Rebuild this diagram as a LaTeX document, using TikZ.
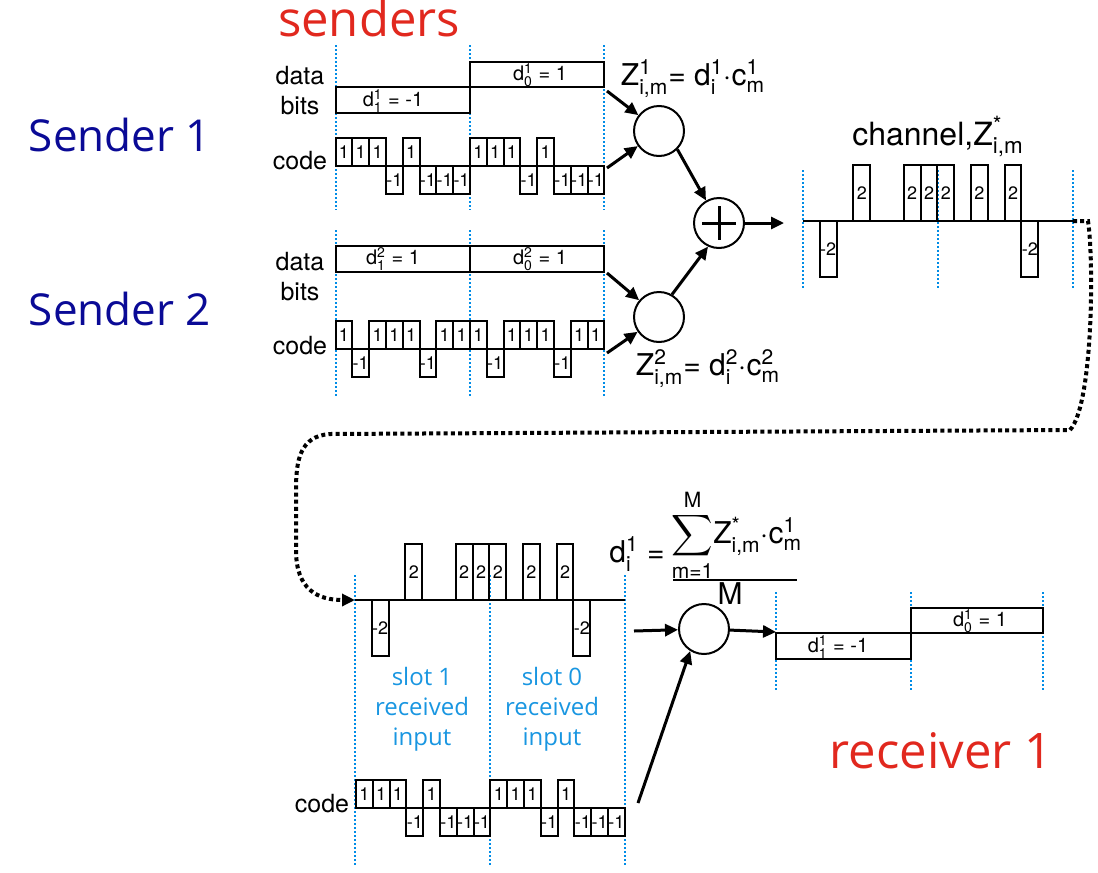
\documentclass[tikz,border=0pt]{standalone}
\usepackage{amsmath}
\usepackage{fontspec}
\setmainfont{TeX Gyre Heros}
\newfontfamily\segoe{Open Sans}
\usetikzlibrary{arrows.meta}

\definecolor{navyblue}{RGB}{10,10,150}
\definecolor{titlered}{RGB}{225,40,30}
\definecolor{slotblue}{RGB}{25,150,225}
\definecolor{gridblue}{RGB}{0,140,230}

\newcommand{\chipw}{16.8}
\newcommand{\chiph}{28}
\newcommand{\zsub}[3]{#1$^{\text{#2}}_{\text{#3}}$}
% chip waveform: #1 name, #2 x start, #3 baseline y, #4 chip values
\newcommand{\chipwave}[4]{%
  \foreach \v [count=\k from 0] in {#4}{%
    \ifnum\v=0\relax\else
      \draw[chip] ({#2+\k*\chipw},#3) rectangle ({#2+(\k+1)*\chipw},{#3-(\v)*\chiph});
      \node[chiplabel] (#1-\k) at ({#2+(\k+0.5)*\chipw},{#3-(\v)*\chiph/2}) {\v};
    \fi}}

\begin{document}
\begin{tikzpicture}[x=0.5pt, y=-0.5pt, >={Triangle[length=6.5pt,width=6pt]},
  chip/.style={line width=1pt},
  chiplabel/.style={inner sep=0pt, font=\fontsize{9}{9}\selectfont},
  bitbox/.style={line width=1pt},
  bitlabel/.style={inner sep=0pt, font=\fontsize{10}{12}\selectfont},
  slotline/.style={gridblue, line width=1pt, dash pattern=on 1pt off 1pt},
  mixer/.style={draw, circle, line width=1pt, minimum size=25pt, inner sep=0pt},
  flow/.style={->, line width=1.5pt},
  rowlabel/.style={inner sep=0pt, align=center, font=\fontsize{12.5}{15}\selectfont},
  formula/.style={inner sep=0pt, font=\fontsize{15}{18}\selectfont},
  bigblue/.style={navyblue, inner sep=0pt, font=\segoe\fontsize{22}{26}\selectfont},
  bigred/.style={titlered, inner sep=0pt, font=\segoe\fontsize{24.5}{28}\selectfont},
  slottext/.style={slotblue, align=center, inner sep=0pt, font=\segoe\fontsize{12}{15}\selectfont},
  chanlink/.style={line width=2pt, dash pattern=on 2pt off 1.6pt}]

  \useasboundingbox (0,0) rectangle (1098,873);

  % --- Titulos ---
  \node[bigred, anchor=base] (senders) at (369,36) {senders};
  \node[bigblue, anchor=base] (snd1) at (120,151) {Sender 1};
  \node[bigblue, anchor=base] (snd2) at (120,325) {Sender 2};
  \node[bigred, anchor=base] (recv1) at (941,768) {receiver 1};

  % --- Lineas de ranura ---
  \foreach \x in {335.5,470,603.5} {
    \draw[slotline] (\x,45) -- (\x,210);
    \draw[slotline] (\x,230) -- (\x,397);
  }
  \foreach \x in {803,938,1073}
    \draw[slotline] (\x,170) -- (\x,290);
  \foreach \x in {355,490,624.5}
    \draw[slotline] (\x,575) -- (\x,866);
  \foreach \x in {776,911,1043}
    \draw[slotline] (\x,592) -- (\x,690);

  % --- Sender 1 ---
  \node[rowlabel] (s1bits) at (300,91) {data\\bits};
  \node[rowlabel, anchor=base] (s1code) at (300,169) {code};
  \draw[bitbox] (336,87) rectangle (470,112.5);
  \node[bitlabel] (d11) at (393,101) {\zsub{d}{1}{1} = -1};
  \draw[bitbox] (470,62) rectangle (603.5,87);
  \node[bitlabel] (d01) at (540,75) {\zsub{d}{1}{0} = 1};
  \chipwave{sa}{335.5}{166}{1,1,1,-1,1,-1,-1,-1,1,1,1,-1,1,-1,-1,-1}

  % --- Sender 2 ---
  \node[rowlabel] (s2bits) at (300,277) {data\\bits};
  \node[rowlabel, anchor=base] (s2code) at (300,354) {code};
  \draw[bitbox] (336,246) rectangle (470,272);
  \node[bitlabel] (d12) at (393,259) {\zsub{d}{2}{1} = 1};
  \draw[bitbox] (470,246) rectangle (603.5,272);
  \node[bitlabel] (d02) at (540,259) {\zsub{d}{2}{0} = 1};
  \chipwave{sb}{335.5}{349}{1,-1,1,1,1,-1,1,1,1,-1,1,1,1,-1,1,1}

  % --- Mezcla ---
  \node[mixer] (mul1) at (659,131) {};
  \node[mixer] (mul2) at (659,317) {};
  \node[mixer] (sum) at (719,223) {};
  \draw[line width=1.5pt] (sum.center) ++(-17,0) -- ++(34,0)
                          (sum.center) ++(0,-17) -- ++(0,34);
  \node[formula, anchor=base] (z1) at (693,85)
    {\zsub{Z}{1}{i,m}= \zsub{d}{1}{i}$\cdot$\zsub{c}{1}{m}};
  \node[formula, anchor=base] (z2) at (708,375)
    {\zsub{Z}{2}{i,m}= \zsub{d}{2}{i}$\cdot$\zsub{c}{2}{m}};

  \coordinate (s1data) at (607,91);
  \coordinate (s1chip) at (607,168);
  \coordinate (s2data) at (607,273);
  \coordinate (s2chip) at (607,353);
  \coordinate (sumout) at (784,223);
  \draw[flow] (s1data) -- (mul1);
  \draw[flow] (s1chip) -- (mul1);
  \draw[flow] (s2data) -- (mul2);
  \draw[flow] (s2chip) -- (mul2);
  \draw[flow] (mul1.-45) -- (sum.120);
  \draw[flow] (mul2.60) -- (sum.-115);
  \draw[flow] (sum) -- (sumout);

  % --- Canal ---
  \node[formula, anchor=base, font=\fontsize{16}{19}\selectfont] (chan) at (938,145)
    {channel,\zsub{Z}{*}{i,m}};
  \coordinate (chstart) at (803,221);
  \coordinate (chend) at (1073,221);
  \draw[chip] (chstart) -- (chend);
  \chipwave{ch}{803}{221}{0,-2,0,2,0,0,2,2,2,0,2,0,2,-2,0,0}

  % --- Enlace al receptor ---
  \coordinate (rxstart) at (355,600);
  \draw[chanlink, ->] (chend) -- (1088,221)
    .. controls (1094,260) and (1093,405) .. (1070,430) -- (330,434)
    .. controls (300,436) and (296,460) .. (296,490) -- (296,550)
    .. controls (296,590) and (318,600) .. (rxstart);

  % --- Receptor ---
  \coordinate (rxend) at (624.5,600);
  \draw[chip] (rxstart) -- (rxend);
  \chipwave{rx}{355}{600}{0,-2,0,2,0,0,2,2,2,0,2,0,2,-2,0,0}
  \node[slottext] (slot1) at (422,709) {slot 1\\received\\input};
  \node[slottext] (slot0) at (552,709) {slot 0\\received\\input};

  \node[rowlabel, anchor=base] (rcode) at (322,812) {code};
  \chipwave{rc}{356}{808}{1,1,1,-1,1,-1,-1,-1,1,1,1,-1,1,-1,-1,-1}

  \node[mixer] (mulr) at (704,629) {};
  \coordinate (rxout) at (634,631);
  \coordinate (rcout) at (638,803);
  \coordinate (decin) at (776,632);
  \draw[flow] (rxout) -- (mulr);
  \draw[flow] (rcout) -- (mulr.-122);
  \draw[flow] (mulr) -- (decin);

  \node[formula, anchor=base] (dlhs) at (637,562) {\zsub{d}{1}{i} =};
  \node[formula, anchor=base] (dnum) at (737,543)
    {$\displaystyle\sum_{\text{m=1}}^{\text{M}}$\zsub{Z}{*}{i,m}$\cdot$\zsub{c}{1}{m}};
  \draw[line width=1pt] (673,580) -- (797,580);
  \node[formula, anchor=base] (dden) at (730,604) {M};

  % --- Bits decodificados ---
  \draw[bitbox] (776,633) rectangle (911,659);
  \node[bitlabel] (r11) at (838,647) {\zsub{d}{1}{1} = -1};
  \draw[bitbox] (911,608) rectangle (1043,633);
  \node[bitlabel] (r01) at (980,621) {\zsub{d}{1}{0} = 1};

\end{tikzpicture}
\end{document}
